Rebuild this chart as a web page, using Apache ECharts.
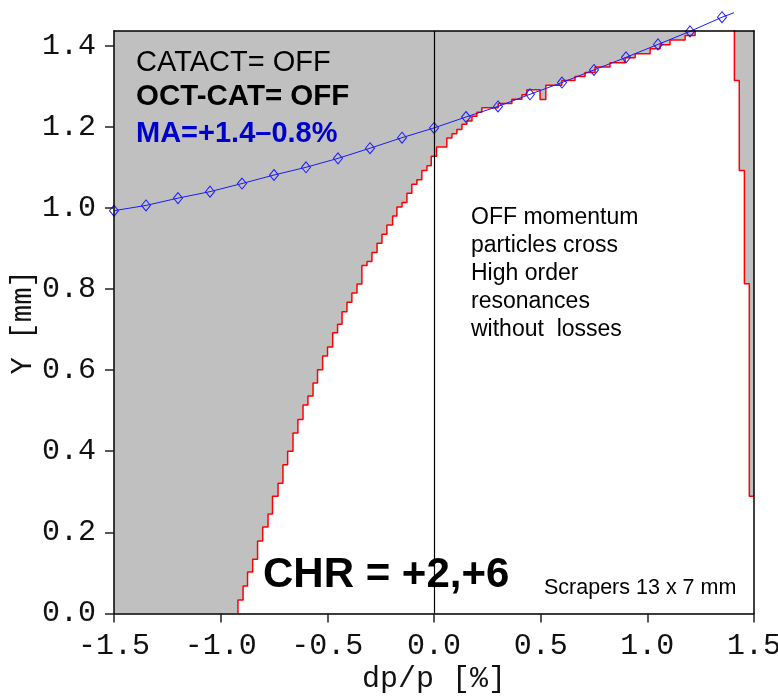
<!DOCTYPE html>
<html><head><meta charset="utf-8">
<script src="https://cdn.jsdelivr.net/npm/echarts@6/dist/echarts.min.js"></script>
<style>html,body{margin:0;padding:0;background:#fff}#c{width:778px;height:696px}</style>
</head><body><div id="c"></div>
<script>
// ---- data ----
const xTicks = [-1.5, -1.0, -0.5, 0, 0.5, 1.0, 1.5];
const yTicks = [0, 0.2, 0.4, 0.6, 0.8, 1.0, 1.2, 1.4];

// left loss boundary (staircase: x of each riser, y at top of riser)
const lossLeftX = [-0.919,-0.919,-0.895,-0.874,-0.850,-0.827,-0.803,-0.778,-0.757,-0.731,-0.708,-0.686,-0.661,-0.638,-0.614,-0.591,-0.567,-0.546,-0.522,-0.499,-0.475,-0.452,-0.431,-0.408,-0.385,-0.361,-0.338,-0.314,-0.291,-0.267,-0.244,-0.221,-0.194,-0.174,-0.150,-0.127,-0.104,-0.080,-0.057,-0.033,-0.013,0.012,0.060,0.084,0.107,0.131,0.154,0.178,0.201,0.224,0.301,0.365,0.412,0.435,0.497,0.524,0.599,0.661,0.708,0.755,0.825,0.896,0.943,1.013,1.060,1.106,1.177,1.224];
const lossLeftY = [0,0.033,0.068,0.102,0.134,0.179,0.213,0.245,0.289,0.321,0.367,0.400,0.445,0.478,0.514,0.536,0.568,0.601,0.635,0.657,0.692,0.713,0.744,0.767,0.790,0.812,0.858,0.868,0.890,0.913,0.935,0.958,0.980,1.002,1.013,1.036,1.058,1.069,1.092,1.104,1.127,1.150,1.172,1.183,1.193,1.206,1.214,1.226,1.236,1.247,1.257,1.268,1.279,1.291,1.267,1.302,1.314,1.324,1.334,1.347,1.358,1.370,1.380,1.392,1.402,1.414,1.425,1.44];

// right loss boundary
const lossRightX = [1.408, 1.408, 1.431, 1.455, 1.478, 1.5];
const lossRightY = [1.44, 1.314, 1.092, 0.813, 0.289, 0.289];

// MA curve
const maX = [-1.5,-1.35,-1.2,-1.05,-0.9,-0.75,-0.6,-0.45,-0.3,-0.15,0,0.15,0.3,0.45,0.6,0.75,0.9,1.05,1.2,1.35,1.406];
const maY = [0.993,1.006,1.024,1.040,1.060,1.081,1.100,1.122,1.147,1.173,1.197,1.224,1.250,1.280,1.309,1.340,1.371,1.403,1.435,1.470,1.481];

// ---- chart ----
const mono = '"Liberation Mono", "Courier New", monospace';
const sans = '"Liberation Sans", Arial, sans-serif';
const pairs = (xs, ys) => xs.map((x, i) => [x, ys[i]]);
const leftPts = pairs(lossLeftX, lossLeftY);
const rightPts = pairs(lossRightX, lossRightY);
const maPts = maX.map((x, i) => i === maX.length - 1 ? { value: [x, maY[i]], symbol: 'none' } : [x, maY[i]]);

const axLine = { show: true, onZero: false, lineStyle: { color: '#000', width: 1.5 } };
const fmt = v => v.toFixed(1);

const chart = echarts.init(document.getElementById('c'), null, { renderer: 'canvas' });
chart.setOption({
  animation: false,
  backgroundColor: '#fff',
  grid: { left: 114, right: 24, top: 31, bottom: 82.5, show: true, backgroundColor: '#c0c0c0', borderWidth: 0,
          containLabel: false, outerBoundsMode: 'none' },
  xAxis: [
    {
      type: 'value', min: -1.5, max: 1.5, interval: 0.5, position: 'bottom', z: 10,
      name: 'dp/p [%]', nameLocation: 'middle', nameGap: 51, nameMoveOverlap: false,
      nameTextStyle: { fontFamily: mono, fontSize: 30, color: '#111' },
      axisLine: axLine,
      axisTick: { show: true, inside: false, length: 9, customValues: xTicks, lineStyle: { color: '#222', width: 1.5 } },
      axisLabel: { margin: 18, fontFamily: mono, fontSize: 30, color: '#111', customValues: xTicks, formatter: fmt },
      splitLine: { show: false }
    },
    {
      type: 'value', min: -1.5, max: 1.5, interval: 0.5, position: 'top', z: 10,
      axisLine: axLine, axisTick: { show: false }, axisLabel: { show: false }, splitLine: { show: false }
    }
  ],
  yAxis: [
    {
      type: 'value', min: 0, max: 1.436, interval: 0.2, position: 'left', z: 10,
      name: 'Y [mm]', nameLocation: 'middle', nameGap: 76, nameMoveOverlap: false,
      nameTextStyle: { fontFamily: mono, fontSize: 29, color: '#111' },
      axisLine: axLine,
      axisTick: { show: true, inside: false, length: 9, customValues: yTicks, lineStyle: { color: '#222', width: 1.5 } },
      axisLabel: { margin: 18, fontFamily: mono, fontSize: 30, color: '#111', customValues: yTicks, formatter: fmt },
      splitLine: { show: false }
    },
    {
      type: 'value', min: 0, max: 1.436, position: 'right', z: 10,
      axisLine: axLine, axisTick: { show: false }, axisLabel: { show: false }, splitLine: { show: false }
    }
  ],
  series: [
    {
      type: 'line', name: 'acceptance', data: leftPts.concat(rightPts), step: 'end',
      symbol: 'none', lineStyle: { width: 0, opacity: 0 }, areaStyle: { color: '#fff', opacity: 1 },
      z: 2, silent: true
    },
    {
      type: 'line', name: 'lossLeft', data: leftPts, step: 'end', symbol: 'none',
      lineStyle: { color: '#ff0000', width: 1.5 }, z: 3, silent: true,
      markLine: {
        silent: true, symbol: ['none', 'none'], label: { show: false },
        lineStyle: { color: '#000', width: 1.2, type: 'solid' },
        data: [{ xAxis: 0 }]
      }
    },
    {
      type: 'line', name: 'lossRight', data: rightPts, step: 'end', symbol: 'none',
      lineStyle: { color: '#ff0000', width: 1.5 }, z: 3, silent: true
    },
    {
      type: 'line', name: 'MA', data: maPts, symbol: 'diamond', symbolSize: [9, 11],
      lineStyle: { color: '#1a1aff', width: 1 },
      itemStyle: { color: 'rgba(0,0,0,0)', borderColor: '#1a1aff', borderWidth: 1 },
      clip: false, z: 4, silent: true
    }
  ],
  graphic: [
    { type: 'text', x: 136, y: 63, z: 20, style: { text: 'CATACT= OFF', fontFamily: sans, fontSize: 29, fill: '#000', textVerticalAlign: 'middle', verticalAlign: 'middle' } },
    { type: 'text', x: 136, y: 97, z: 20, style: { text: 'OCT-CAT= OFF', fontFamily: sans, fontSize: 29.5, fontWeight: 'bold', fill: '#000', textVerticalAlign: 'middle', verticalAlign: 'middle' } },
    { type: 'text', x: 136, y: 134, z: 20, style: { text: 'MA=+1.4–0.8%', fontFamily: sans, fontSize: 29, fontWeight: 'bold', fill: '#0000cc', textVerticalAlign: 'middle', verticalAlign: 'middle' } },
    { type: 'text', x: 263, y: 575, z: 20, style: { text: 'CHR = +2,+6', fontFamily: sans, fontSize: 42, fontWeight: 'bold', fill: '#000', textVerticalAlign: 'middle', verticalAlign: 'middle' } },
    { type: 'text', x: 544, y: 588, z: 20, style: { text: 'Scrapers 13 x 7 mm', fontFamily: sans, fontSize: 21.5, fill: '#000', textVerticalAlign: 'middle', verticalAlign: 'middle' } },
    { type: 'text', x: 471, y: 203.5, z: 20, style: { text: 'OFF momentum\nparticles cross\nHigh order\nresonances\nwithout  losses', fontFamily: sans, fontSize: 23, lineHeight: 28, fill: '#000', textVerticalAlign: 'top', verticalAlign: 'top' } }
  ]
});
</script></body></html>
